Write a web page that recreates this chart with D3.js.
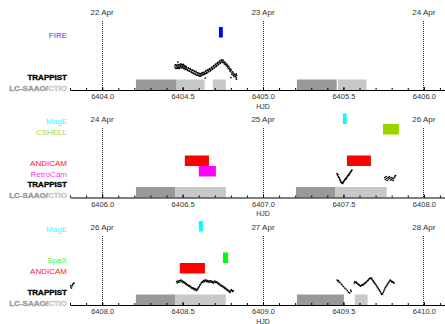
<!DOCTYPE html>
<html>
<head>
<meta charset="utf-8">
<script src="https://cdn.jsdelivr.net/npm/d3@7"></script>
<style>
  body { margin: 0; background: #fff; }
  svg { display: block; font-family: "Liberation Sans", Arial, sans-serif; }
</style>
</head>
<body>
<svg id="chart" width="445" height="324"></svg>
<script>
// Instrument rows, listed from the bottom row upward
const instruments = ["LC-SAAO/CTIO", "TRAPPIST", "RetroCam", "ANDICAM", "SpeX", "FIRE", "CSHELL", "MagE"];

// Each panel covers two nights, starting at these HJD - 2450000 values
const panelStarts = [6404, 6406, 6408];
const dateHJD = [[6404, 6405, 6406], [6406, 6407, 6408], [6408, 6409, 6410]];
const dateLabels = [["22 Apr", "23 Apr", "24 Apr"], ["24 Apr", "25 Apr", "26 Apr"], ["26 Apr", "27 Apr", "28 Apr"]];
const tickHJD = [
  [6404.0, 6404.5, 6405.0, 6405.5, 6406.0],
  [6406.0, 6406.5, 6407.0, 6407.5, 6408.0],
  [6408.0, 6408.5, 6409.0, 6409.5, 6410.0]
];

// Las Cumbres photometry windows [start, end]
const saaoWindows = [
  [6404.210, 6404.463], [6405.211, 6405.458], [6406.210, 6406.456],
  [6407.205, 6407.451], [6408.210, 6408.456], [6409.211, 6409.503]
];
const ctioWindows = [
  [6404.465, 6404.637], [6404.688, 6404.769], [6405.466, 6405.644],
  [6406.456, 6406.769], [6407.451, 6407.769], [6408.456, 6408.769],
  [6409.571, 6409.650]
];

// Other instruments [instrument, start, end]
const otherWindows = [
  ["FIRE", 6404.726, 6404.750],
  ["ANDICAM", 6406.514, 6406.664],
  ["RetroCam", 6406.601, 6406.707],
  ["MagE", 6407.497, 6407.520],
  ["ANDICAM", 6407.522, 6407.671],
  ["CSHELL", 6407.746, 6407.845],
  ["ANDICAM", 6408.483, 6408.639],
  ["MagE", 6408.601, 6408.626],
  ["SpeX", 6408.751, 6408.782]
];

// TRAPPIST relative flux (percent) [HJD, flux]
const trappist = [
  // night of 22 Apr, two interleaved filter sequences
  [6404.452, 0.75], [6404.456, 1.25], [6404.460, 0.38], [6404.464, 1.00], [6404.468, 0.50],
  [6404.472, 1.38], [6404.476, 0.75], [6404.480, 0.38], [6404.484, 1.13], [6404.488, 1.50],
  [6404.492, 0.75], [6404.496, 1.25], [6404.500, 0.63], [6404.504, 1.13], [6404.508, 0.38],
  [6404.512, 0.88], [6404.516, 0.13], [6404.520, 0.63], [6404.526, 0.25], [6404.532, -0.13],
  [6404.538, 0.38], [6404.544, -0.25], [6404.550, 0.13], [6404.556, -0.63], [6404.562, -0.13],
  [6404.568, -0.88], [6404.574, -0.38], [6404.580, -1.13], [6404.586, -0.63], [6404.592, -1.25],
  [6404.598, -0.88], [6404.604, -1.50], [6404.610, -1.00], [6404.616, -1.25], [6404.622, -0.63],
  [6404.628, -1.13], [6404.634, -0.50], [6404.640, -0.88], [6404.646, -0.13], [6404.652, -0.63],
  [6404.658, 0.13], [6404.664, -0.25], [6404.670, 0.38], [6404.676, 0.00], [6404.682, 0.75],
  [6404.688, 0.38], [6404.694, 1.13], [6404.700, 0.75], [6404.706, 1.50], [6404.712, 1.13],
  [6404.718, 1.88], [6404.724, 1.50], [6404.730, 2.25], [6404.736, 1.88], [6404.742, 2.50],
  [6404.748, 1.88], [6404.754, 2.25], [6404.760, 1.50], [6404.766, 1.75], [6404.772, 1.00],
  [6404.778, 1.25], [6404.784, 0.38], [6404.790, 0.50], [6404.796, -0.38], [6404.802, -0.13],
  [6404.808, -1.13], [6404.814, -0.75], [6404.820, -1.63], [6404.826, -1.13], [6404.832, -1.88],
  [6404.836, -1.38],
  [6404.454, 1.30], [6404.458, 0.50], [6404.462, 1.20], [6404.466, 0.55], [6404.470, 1.05],
  [6404.474, 0.45], [6404.478, 1.35], [6404.482, 0.60], [6404.486, 0.95], [6404.490, 1.45],
  [6404.494, 0.55], [6404.498, 1.35], [6404.502, 0.80], [6404.506, 1.40], [6404.510, 0.45],
  [6404.514, 1.05], [6404.518, 0.40], [6404.523, 0.85], [6404.529, 0.05], [6404.535, 0.55],
  [6404.541, -0.20], [6404.547, 0.35], [6404.553, -0.45], [6404.559, 0.05], [6404.565, -0.70],
  [6404.571, -0.15], [6404.577, -0.95], [6404.583, -0.40], [6404.589, -1.30], [6404.595, -0.70],
  [6404.601, -1.35], [6404.607, -0.85], [6404.613, -1.55], [6404.619, -0.90], [6404.625, -1.25],
  [6404.631, -0.70], [6404.637, -1.05], [6404.643, -0.35], [6404.649, -0.80], [6404.655, -0.10],
  [6404.661, -0.45], [6404.667, 0.20], [6404.673, -0.20], [6404.679, 0.55], [6404.685, 0.15],
  [6404.691, 0.90], [6404.697, 0.50], [6404.703, 1.30], [6404.709, 0.90], [6404.715, 1.65],
  [6404.721, 1.30], [6404.727, 2.05], [6404.733, 1.65], [6404.739, 2.40], [6404.745, 2.10],
  [6404.751, 2.55], [6404.757, 1.85], [6404.763, 2.00], [6404.769, 1.35], [6404.775, 1.50],
  [6404.781, 0.75], [6404.787, 0.95], [6404.793, 0.05], [6404.799, 0.20], [6404.805, -0.75],
  [6404.811, -0.45], [6404.817, -1.30], [6404.823, -1.00], [6404.829, -1.55], [6404.834, -1.00],
  [6404.471, 2.00], [6404.641, -2.00], [6404.801, -1.90], [6404.835, -2.30],

  // night of 25 Apr
  [6407.460, 1.00], [6407.463, 0.63], [6407.466, 0.75], [6407.469, 0.25], [6407.472, 0.00],
  [6407.475, -0.13], [6407.478, -0.50], [6407.481, -0.75], [6407.484, -1.00], [6407.487, -1.25],
  [6407.490, -1.38], [6407.493, -1.25], [6407.496, -1.50], [6407.499, -1.13], [6407.502, -1.00],
  [6407.505, -0.75], [6407.508, -0.63], [6407.511, -0.38], [6407.514, -0.25], [6407.517, -0.38],
  [6407.520, 0.00], [6407.523, 0.13], [6407.526, 0.38], [6407.529, 0.50], [6407.532, 0.75],
  [6407.535, 0.63], [6407.538, 1.00], [6407.541, 1.13], [6407.544, 1.38], [6407.547, 1.50],
  [6407.550, 1.75], [6407.553, 1.88],

  [6407.757, 0.00], [6407.761, -0.50], [6407.765, 0.25], [6407.769, -0.25], [6407.773, -0.75],
  [6407.777, 0.00], [6407.781, -0.38], [6407.785, 0.25], [6407.789, -0.13], [6407.793, -0.63],
  [6407.797, 0.00], [6407.801, -0.50], [6407.805, -0.13], [6407.809, -0.75], [6407.813, -0.25],
  [6407.817, 0.13], [6407.821, 0.38], [6407.825, 0.50],

  // night of 26 Apr
  [6408.463, 0.88], [6408.467, 0.50], [6408.471, 1.00], [6408.475, 0.75], [6408.479, 1.13],
  [6408.483, 0.75], [6408.487, 1.13], [6408.491, 1.25], [6408.495, 0.88], [6408.499, 1.00],
  [6408.503, 0.63], [6408.507, 0.88], [6408.511, 0.50], [6408.515, 0.63], [6408.519, 0.25],
  [6408.523, 0.38], [6408.527, 0.00], [6408.531, 0.13], [6408.535, -0.13], [6408.539, -0.25],
  [6408.543, -0.13], [6408.547, -0.50], [6408.551, -0.38], [6408.555, -0.75], [6408.559, -0.63],
  [6408.563, -0.88], [6408.567, -0.75], [6408.571, -1.13], [6408.575, -0.88], [6408.579, -1.25],
  [6408.583, -1.00], [6408.587, -1.38], [6408.591, -1.13], [6408.595, -0.88], [6408.599, -0.63],
  [6408.603, -0.38], [6408.607, 0.00], [6408.611, 0.13], [6408.615, 0.50], [6408.619, 0.63],
  [6408.623, 0.88], [6408.627, 0.75], [6408.631, 1.13], [6408.635, 0.88], [6408.639, 1.25],
  [6408.643, 1.00], [6408.647, 1.25], [6408.651, 0.88], [6408.655, 1.13], [6408.659, 0.75],
  [6408.663, 1.00], [6408.667, 0.75], [6408.671, 1.13], [6408.675, 0.75], [6408.679, 1.00],
  [6408.683, 0.63], [6408.687, 0.88], [6408.691, 0.50], [6408.695, 0.75], [6408.699, 1.00],
  [6408.703, 0.63], [6408.707, 0.88], [6408.711, 0.63], [6408.715, 0.75], [6408.719, 0.38],
  [6408.723, 0.50], [6408.727, 0.13], [6408.731, 0.25], [6408.735, -0.13], [6408.739, 0.00],
  [6408.743, -0.25], [6408.747, -0.38], [6408.751, -0.25], [6408.755, -0.63], [6408.759, -0.50],
  [6408.763, -0.88], [6408.767, -0.75], [6408.771, -1.13], [6408.775, -1.00], [6408.779, -1.38],
  [6408.783, -1.25], [6408.787, -1.63], [6408.791, -1.50], [6408.795, -1.88], [6408.799, -1.50],
  [6408.803, -1.13], [6408.807, -1.38], [6408.811, -1.63], [6408.815, -1.38],

  // night of 27 Apr
  [6409.461, 1.25], [6409.465, 1.00], [6409.469, 1.13], [6409.474, 0.75], [6409.479, 0.63],
  [6409.486, 0.25], [6409.493, 0.00], [6409.500, -0.38], [6409.508, -0.75], [6409.516, -1.00],
  [6409.524, -1.38], [6409.531, -1.75], [6409.538, -2.00], [6409.545, -1.25], [6409.548, -1.63],
  [6409.567, 0.50], [6409.571, 0.88], [6409.575, 0.63], [6409.579, 0.75], [6409.583, 0.50],
  [6409.587, 0.38], [6409.591, 0.25], [6409.595, 0.13], [6409.599, 0.00], [6409.603, -0.13],
  [6409.607, -0.25], [6409.611, -0.13], [6409.615, 0.00], [6409.619, 0.13], [6409.623, 0.00],
  [6409.627, 0.25], [6409.631, 0.38], [6409.635, 0.50], [6409.639, 0.63], [6409.643, 0.75],
  [6409.647, 1.00], [6409.651, 1.13], [6409.655, 1.25], [6409.659, 1.50], [6409.663, 1.63],
  [6409.667, 1.75], [6409.671, 1.63], [6409.675, 1.75], [6409.679, 1.38], [6409.683, 1.13],
  [6409.687, 0.88], [6409.691, 0.63], [6409.695, 0.50], [6409.699, 0.25], [6409.703, 0.00],
  [6409.707, -0.25], [6409.711, -0.50], [6409.715, -0.75], [6409.719, -1.00], [6409.723, -1.25],
  [6409.727, -1.50], [6409.731, -1.75], [6409.735, -2.13], [6409.739, -2.38], [6409.743, -2.25],
  [6409.747, -1.88], [6409.751, -1.50], [6409.755, -1.13], [6409.759, -0.75], [6409.763, -0.50],
  [6409.767, -0.25], [6409.771, 0.00], [6409.775, 0.25], [6409.779, 0.50], [6409.783, 0.75],
  [6409.787, 1.00], [6409.791, 1.25], [6409.795, 1.13], [6409.799, 0.88], [6409.803, 0.75],
  [6409.807, 0.88], [6409.811, 0.63], [6409.815, 0.50]
];

// ---- styling ----
const barColor = {
  "RetroCam": "#ff00ff", "ANDICAM": "#ff0000", "SpeX": "#00ff00", "FIRE": "#0000ff",
  "CSHELL": "#99d400", "MagE": "#00ffff", "TRAPPIST": "#000000"
};
const labelColor = {
  "RetroCam": "#ff33ff", "ANDICAM": "#ff2020", "SpeX": "#33ff33", "FIRE": "#4040ff",
  "CSHELL": "#a8d630", "MagE": "#33ffff"
};
const saaoColor = "#999999", ctioColor = "#c8c8c8";

const W = 445;
const rowH = 10.5;
const panelGap = 107.5;
const axisOffset = 90;
const xLeft = 70, xRight = 456;

const svg = d3.select("#chart");
const defs = svg.append("defs");

panelStarts.forEach((p0, i) => {
  const axisY = axisOffset + i * panelGap;
  const x = d3.scaleLinear().domain([p0 - 0.2, p0 + 2.2]).range([xLeft, xRight]);
  const [d0, d1] = x.domain();
  const yFlux = d3.scaleLinear().domain([-5, 5]).range([axisY, axisY - 40]);
  const rowIndex = name => instruments.indexOf(name);
  const rowTop = k => axisY - (k + 1) * rowH;
  // a window belongs to the panel in which it starts
  const startsHere = t => t >= d0 && t < d1;

  const clipId = "panel-clip-" + i;
  defs.append("clipPath").attr("id", clipId)
    .append("rect").attr("x", xLeft).attr("y", axisY - 85).attr("width", W - xLeft).attr("height", 86);

  const g = svg.append("g");
  const plot = g.append("g").attr("clip-path", `url(#${clipId})`);

  // dotted lines at the start of each date
  g.selectAll("line.date").data(dateHJD[i]).join("line")
    .attr("x1", d => x(d)).attr("x2", d => x(d))
    .attr("y1", axisY - 69.5).attr("y2", axisY)
    .attr("stroke", "#222").attr("stroke-width", 1).attr("stroke-dasharray", "1,1")
    .attr("shape-rendering", "crispEdges");

  g.selectAll("text.date").data(dateLabels[i]).join("text")
    .attr("x", (d, j) => x(dateHJD[i][j])).attr("y", axisY - 78)
    .attr("dominant-baseline", "central").attr("text-anchor", "middle")
    .attr("font-size", 8).attr("fill", "#333").text(d => d);

  // photometry windows
  const lcRow = rowIndex("LC-SAAO/CTIO");
  plot.selectAll("rect.saao").data(saaoWindows.filter(w => startsHere(w[0]))).join("rect")
    .attr("x", d => x(d[0])).attr("width", d => x(d[1]) - x(d[0]))
    .attr("y", rowTop(lcRow)).attr("height", rowH).attr("fill", saaoColor);
  plot.selectAll("rect.ctio").data(ctioWindows.filter(w => startsHere(w[0]))).join("rect")
    .attr("x", d => x(d[0])).attr("width", d => x(d[1]) - x(d[0]))
    .attr("y", rowTop(lcRow)).attr("height", rowH).attr("fill", ctioColor);

  const others = otherWindows.filter(w => startsHere(w[1]));
  plot.selectAll("rect.inst").data(others).join("rect")
    .attr("x", d => x(d[1])).attr("width", d => x(d[2]) - x(d[1]))
    .attr("y", d => rowTop(rowIndex(d[0]))).attr("height", rowH)
    .attr("fill", d => barColor[d[0]]);

  // TRAPPIST photometry
  const pts = trappist.filter(d => d[0] >= d0 && d[0] <= d1);
  plot.selectAll("circle.lc").data(pts).join("circle")
    .attr("cx", d => x(d[0])).attr("cy", d => yFlux(d[1]))
    .attr("r", 0.85).attr("fill", "#000");

  // row labels for instruments present in this panel
  const present = new Set(["LC-SAAO/CTIO", "TRAPPIST", ...others.map(d => d[0])]);
  const labelY = k => axisY - (k + 0.5) * rowH + 3;
  instruments.forEach((name, k) => {
    if (!present.has(name)) return;
    const t = g.append("text")
      .attr("x", 67).attr("y", labelY(k))
      .attr("text-anchor", "end").attr("dominant-baseline", "central")
      .attr("font-size", 8);
    if (name === "LC-SAAO/CTIO") {
      t.attr("font-weight", "bold").attr("stroke-width", 0.35);
      t.append("tspan").text("LC-SAAO/").attr("fill", saaoColor).attr("stroke", saaoColor);
      t.append("tspan").text("CTIO").attr("fill", ctioColor).attr("stroke", ctioColor);
    } else if (name === "TRAPPIST") {
      t.attr("font-weight", "bold").attr("fill", "#000").attr("stroke", "#000")
        .attr("stroke-width", 0.35).text(name);
    } else {
      t.attr("fill", labelColor[name]).text(name);
    }
  });

  // minor ticks every 0.1 d, pointing up
  const minor = d3.axisBottom(x).ticks(24).tickSizeInner(-2).tickSizeOuter(0).tickFormat("");
  const minorG = g.append("g").attr("transform", `translate(0,${axisY})`).call(minor);
  minorG.select(".domain").remove();
  minorG.selectAll("line").attr("stroke", "#000");

  // labelled ticks and axis line
  const major = d3.axisBottom(x).tickValues(tickHJD[i]).tickSizeInner(-3).tickSizeOuter(0)
    .tickPadding(4).tickFormat(d3.format(".1f"));
  const axG = g.append("g").attr("transform", `translate(0,${axisY})`).call(major);
  axG.attr("font-family", null).attr("font-size", null);
  axG.select(".domain").attr("stroke", "#000").attr("stroke-width", 1.2);
  axG.selectAll("line").attr("stroke", "#000");
  axG.selectAll("text").attr("font-size", 7.5).attr("fill", "#333");

  g.append("text")
    .attr("x", x(p0 + 1)).attr("y", axisY + 16)
    .attr("text-anchor", "middle").attr("dominant-baseline", "central")
    .attr("font-size", 7).attr("fill", "#333").text("HJD");
});
</script>
</body>
</html>
